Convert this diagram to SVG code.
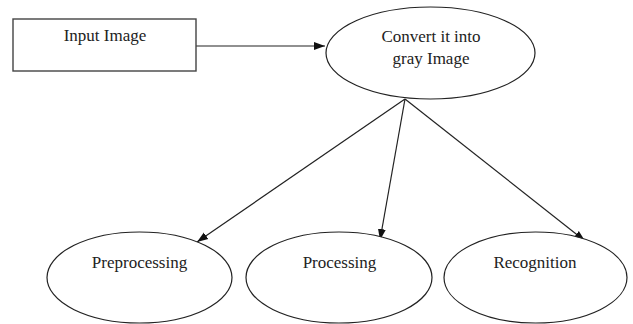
<svg xmlns="http://www.w3.org/2000/svg" width="633" height="324" viewBox="0 0 633 324">
  <defs>
    <style>
      .box { fill: #fff; stroke: #444; stroke-width: 1.4; }
      .node { fill: #fff; stroke: #222; stroke-width: 1.2; }
      .edge { stroke: #222; stroke-width: 1.2; fill: none; marker-end: url(#arrow); }
      .label { font-size: 17px; fill: #222; text-anchor: middle; }
    </style>
    <marker id="arrow" markerUnits="userSpaceOnUse" markerWidth="12" markerHeight="10" viewBox="0 0 12 10" refX="11" refY="5" orient="auto">
      <path d="M0,1 L11,5 L0,9 Z" fill="#111"/>
    </marker>
  </defs>
  <rect width="633" height="324" fill="#fff"/>

  <g id="connectors">
    <line class="edge" x1="196" y1="46" x2="325" y2="46"/>
    <line class="edge" x1="405" y1="99" x2="197" y2="242"/>
    <line class="edge" x1="405" y1="99" x2="380" y2="240"/>
    <line class="edge" x1="405" y1="99" x2="585" y2="241"/>
  </g>

  <g font-family="Liberation Serif, DejaVu Serif, serif">
    <g id="input-image">
      <rect class="box" x="13" y="19" width="183" height="52"/>
      <text class="label" x="105" y="41">Input Image</text>
    </g>

    <g id="convert-gray">
      <ellipse class="node" cx="430.5" cy="53" rx="104.5" ry="46"/>
      <text class="label" x="431" y="42">Convert it into</text>
      <text class="label" x="431" y="64">gray Image</text>
    </g>

    <g id="preprocessing">
      <ellipse class="node" cx="139.5" cy="277.5" rx="92.5" ry="45.5"/>
      <text class="label" x="139.5" y="268">Preprocessing</text>
    </g>

    <g id="processing">
      <ellipse class="node" cx="339" cy="277.5" rx="93" ry="45.5"/>
      <text class="label" x="339.5" y="268">Processing</text>
    </g>

    <g id="recognition">
      <ellipse class="node" cx="535.5" cy="277.5" rx="91.5" ry="45.5"/>
      <text class="label" x="535" y="268">Recognition</text>
    </g>
  </g>
</svg>
